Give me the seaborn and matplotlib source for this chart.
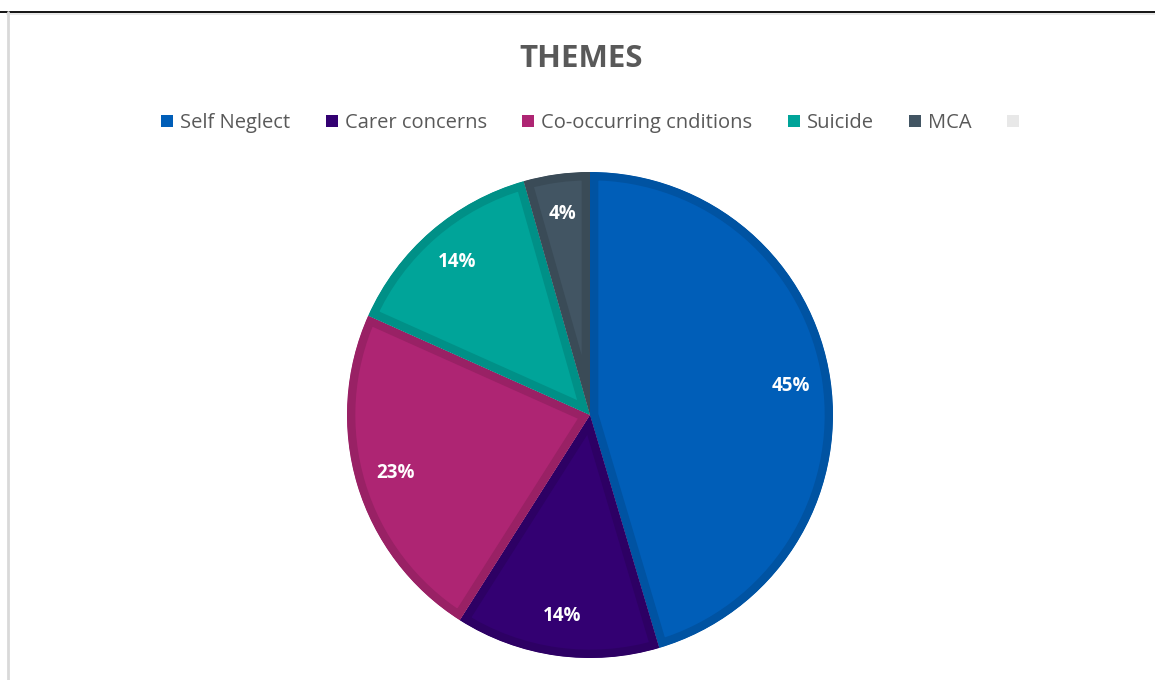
import matplotlib
matplotlib.use("Agg")
import matplotlib.pyplot as plt
from matplotlib.patches import Patch
from matplotlib.lines import Line2D
from matplotlib.transforms import TransformedPatchPath
import seaborn as sns
import numpy as np

categories = ["Self Neglect", "Carer concerns", "Co-occurring cnditions", "Suicide", "MCA"]
values = [45.4, 13.6, 22.7, 13.9, 4.4]
colors = ["#005EB8", "#330072", "#AE2573", "#00A499", "#425563"]
extra_legend_color = "#E8E8E8"

sns.set_theme(style="white")
plt.rcParams['font.family'] = ['Open Sans', 'DejaVu Sans']

palette = sns.color_palette(colors)

fig = plt.figure(figsize=(11.55, 6.8), dpi=100)
fig.patch.set_facecolor("white")

# frame lines
fig.add_artist(Line2D([0, 1], [1 - 11.5/680, 1 - 11.5/680], color="black", lw=1.3, transform=fig.transFigure))
fig.add_artist(Line2D([0.006, 1], [1 - 13.5/680, 1 - 13.5/680], color="#E6E6E6", lw=1.3, transform=fig.transFigure))
fig.add_artist(Line2D([8/1155, 8/1155], [0, 1 - 12/680], color="#D9D9D9", lw=2, transform=fig.transFigure))

ax = fig.add_axes([(590 - 243) / 1155, (680 - 415 - 243) / 680, 486 / 1155, 486 / 680])

def darker(c, f=0.88):
    return tuple(np.clip(np.array(c) * f, 0, 1))

wedges, texts, autotexts = ax.pie(
    values, colors=palette, startangle=90, counterclock=False, radius=1,
    autopct=lambda p: f"{p:.0f}%", pctdistance=0.835,
    textprops=dict(color="white", fontsize=13.5, fontweight="bold"),
    wedgeprops=dict(linewidth=12),
)
ax.set_xlim(-1, 1)
ax.set_ylim(-1, 1)
ax.set_aspect("equal")
ax.axis("off")
for w, c in zip(wedges, palette):
    w.set_edgecolor(darker(c))
    w.set_clip_on(True)
    w.set_clip_path(TransformedPatchPath(w))

fig.text(0.5035, 1 - 59/680, "THEMES", ha="center", va="center",
         fontsize=22.5, fontweight="bold", color="#595959")

handles = [Patch(facecolor=c, edgecolor="none") for c in palette] + \
          [Patch(facecolor=extra_legend_color, edgecolor="none")]
labels = categories + [""]
leg = fig.legend(handles, labels, loc="center", bbox_to_anchor=(0.514, 1 - 123/680),
                 ncol=6, frameon=False, fontsize=14.5, handlelength=0.6, handleheight=0.6,
                 handletextpad=0.35, columnspacing=1.75, labelcolor="#595959")

fig.savefig("out.png", dpi=100, facecolor="white")
